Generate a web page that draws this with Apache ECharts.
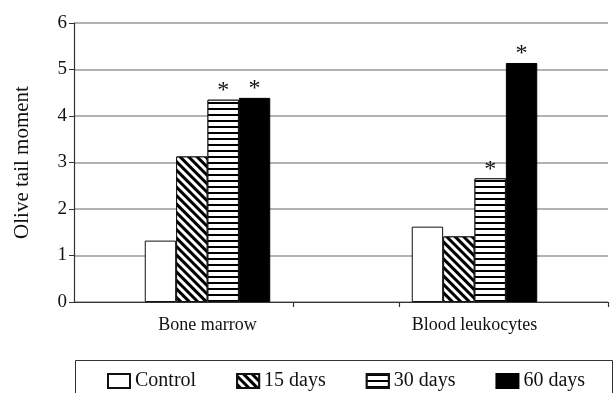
<!DOCTYPE html>
<html>
<head>
<meta charset="utf-8">
<script src="https://cdn.jsdelivr.net/npm/echarts@6/dist/echarts.min.js"></script>
<style>
html,body{margin:0;padding:0;background:#fff;}
#chart{width:615px;height:393px;}
</style>
</head>
<body>
<div id="chart"></div>
<script>
var categories = ['Bone marrow', 'Blood leukocytes'];
var seriesNames = ['Control', '15 days', '30 days', '60 days'];
var control = [1.32, 1.62];
var days15 = [3.13, 1.41];
var days30 = [4.35, 2.66];
var days60 = [4.39, 5.14];
var star15 = [false, false];
var star30 = [true, true];
var star60 = [true, true];
var starControl = [false, false];
var yTicks = [0, 1, 2, 3, 4, 5, 6];
var xTickMarks = [0.41, 0.61, 1];
var FONT = '"Liberation Serif", "Times New Roman", serif';

var chart = echarts.init(document.getElementById('chart'), null, {renderer: 'canvas'});

function mkSeries(name, values, stars, itemStyle) {
  return {
    name: name,
    type: 'bar',
    xAxisIndex: 0,
    data: values,
    barGap: '0%',
    barCategoryGap: '53%',
    itemStyle: itemStyle,
    label: {
      show: true,
      position: 'top',
      distance: -3,
      color: '#111',
      fontFamily: FONT,
      fontSize: 24,
      formatter: function (p) { return stars[p.dataIndex] ? '*' : ''; }
    },
    emphasis: {disabled: true}
  };
}

var option = {
  backgroundColor: '#fff',
  animation: false,
  textStyle: {fontFamily: FONT},
  grid: {left: 74, right: 7, top: 23, bottom: 91},
  graphic: [{
    type: 'rect',
    shape: {x: 75.5, y: 360.5, width: 537, height: 60},
    style: {fill: 'none', stroke: '#333', lineWidth: 1},
    silent: true
  }],
  legend: {
    left: 107,
    top: 371,
    padding: 0,
    icon: 'rect',
    itemWidth: 22,
    itemHeight: 14,
    itemGap: 40,
    data: seriesNames,
    textStyle: {fontFamily: FONT, fontSize: 20, color: '#111'}
  },
  xAxis: [{
    type: 'category',
    data: categories,
    axisLine: {lineStyle: {color: '#333', width: 1.2}},
    axisTick: {show: false},
    axisLabel: {color: '#111', fontFamily: FONT, fontSize: 18, margin: 14}
  }, {
    type: 'value',
    position: 'bottom',
    min: 0,
    max: 1,
    axisLine: {show: false},
    splitLine: {show: false},
    axisLabel: {show: false},
    axisTick: {show: true, inside: false, length: 5, customValues: xTickMarks, lineStyle: {color: '#333', width: 1.2}}
  }],
  yAxis: {
    type: 'value',
    min: 0,
    max: 6,
    interval: 1,
    name: 'Olive tail moment',
    nameLocation: 'middle',
    nameGap: 41,
    nameTextStyle: {color: '#111', fontFamily: FONT, fontSize: 21},
    axisLine: {show: true, lineStyle: {color: '#333', width: 1.2}},
    axisTick: {show: true, length: 5, lineStyle: {color: '#333'}},
    axisLabel: {color: '#111', fontFamily: FONT, fontSize: 19, margin: 7,
      formatter: function (v) { return yTicks.indexOf(v) >= 0 ? String(v) : ''; }},
    splitLine: {show: true, lineStyle: {color: '#999', width: 1.5}}
  },
  series: [
    mkSeries('Control', control, starControl, {color: '#fff', borderColor: '#111', borderWidth: 1}),
    mkSeries('15 days', days15, star15, {color: '#fff', borderColor: '#111', borderWidth: 1,
      decal: {symbol: 'rect', symbolSize: 1, color: '#000', backgroundColor: '#fff',
        dashArrayX: [1, 0], dashArrayY: [3, 3], rotation: Math.PI / 4}}),
    mkSeries('30 days', days30, star30, {color: '#fff', borderColor: '#111', borderWidth: 1,
      decal: {symbol: 'rect', symbolSize: 1, color: '#000', backgroundColor: '#fff',
        dashArrayX: [1, 0], dashArrayY: [2, 4], rotation: 0}}),
    mkSeries('60 days', days60, star60, {color: '#000', borderColor: '#000', borderWidth: 1})
  ]
};
chart.setOption(option);
</script>
</body>
</html>
